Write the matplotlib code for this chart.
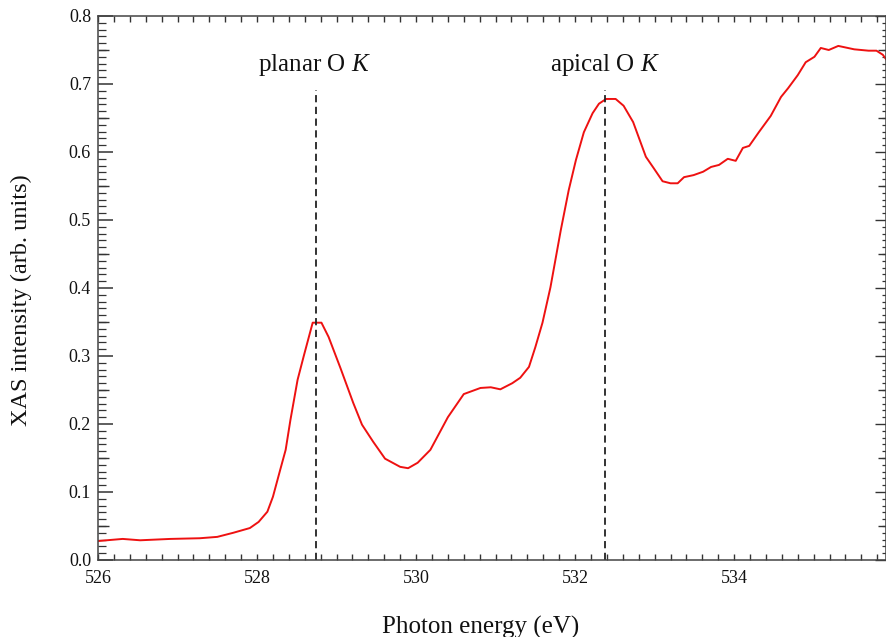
import matplotlib
matplotlib.use("Agg")
import matplotlib.pyplot as plt
from matplotlib.ticker import MultipleLocator, FormatStrFormatter, FixedLocator, NullFormatter

energy = [526.01, 526.31, 526.53, 526.91, 527.28, 527.50, 527.70, 527.91, 528.02, 528.13,
          528.20, 528.29, 528.36, 528.42, 528.51, 528.59, 528.70, 528.81, 528.90, 529.05,
          529.21, 529.32, 529.46, 529.61, 529.80, 529.90, 530.02, 530.18, 530.40, 530.60,
          530.81, 530.94, 531.06, 531.21, 531.31, 531.42, 531.50, 531.59, 531.69, 531.82,
          531.92, 532.01, 532.11, 532.22, 532.30, 532.39, 532.51, 532.61, 532.73, 532.89,
          532.99, 533.10, 533.20, 533.29, 533.37, 533.49, 533.61, 533.71, 533.81, 533.92,
          534.02, 534.11, 534.19, 534.31, 534.46, 534.59, 534.68, 534.80, 534.90, 535.01,
          535.09, 535.19, 535.31, 535.51, 535.69, 535.79, 535.87, 535.92]
intensity = [0.028, 0.031, 0.029, 0.031, 0.032, 0.034, 0.040, 0.047, 0.056, 0.071,
             0.093, 0.132, 0.162, 0.206, 0.265, 0.301, 0.349, 0.349, 0.328, 0.282,
             0.231, 0.199, 0.174, 0.149, 0.137, 0.135, 0.143, 0.162, 0.210, 0.244,
             0.253, 0.254, 0.251, 0.260, 0.268, 0.284, 0.313, 0.349, 0.401, 0.485,
             0.544, 0.588, 0.629, 0.657, 0.671, 0.678, 0.678, 0.668, 0.644, 0.593,
             0.576, 0.557, 0.554, 0.554, 0.563, 0.566, 0.571, 0.578, 0.581, 0.590,
             0.587, 0.606, 0.609, 0.629, 0.653, 0.681, 0.694, 0.713, 0.732, 0.740,
             0.753, 0.750, 0.756, 0.751, 0.749, 0.749, 0.743, 0.735]

peak_positions = [528.745, 532.37]
peak_labels = ["planar O $\\mathit{K}$", "apical O $\\mathit{K}$"]
label_x = [528.72, 532.37]
dash_top = 0.691
label_y = 0.728
mid_ticks = [0.05, 0.15, 0.25, 0.35, 0.45, 0.55, 0.65, 0.75]

plt.rcParams['font.family'] = ['Liberation Serif', 'DejaVu Serif']
plt.rcParams['mathtext.fontset'] = 'custom'
plt.rcParams['mathtext.it'] = 'Liberation Serif:italic'
plt.rcParams['mathtext.rm'] = 'Liberation Serif'

fig = plt.figure(figsize=(8.86, 6.37), dpi=100)
ax = fig.add_axes([98/886, 77/637, 788/886, 544/637])

ax.plot(energy, intensity, color='#ee1111', lw=1.4)
for xp, lx, lab in zip(peak_positions, label_x, peak_labels):
    ax.plot([xp, xp], [0, dash_top], color='#222222', lw=1.3, ls=(0, (4, 2.5)))
    ax.text(lx, label_y, lab, ha='center', va='center', fontsize=18, color='#111111')

ax.set_xlim(526, 535.91)
ax.set_ylim(0, 0.8)
ax.xaxis.set_major_locator(MultipleLocator(2))
ax.xaxis.set_minor_locator(MultipleLocator(0.2))
ax.yaxis.set_major_locator(MultipleLocator(0.1))
ax.yaxis.set_minor_locator(MultipleLocator(0.01))
ax.yaxis.set_major_formatter(FormatStrFormatter('%.1f'))
ax.tick_params(which='both', direction='in', top=True, right=False, colors='#333333',
               labelcolor='#111111', labelsize=13)
ax.tick_params(axis='y', which='major', length=11, width=1.1, pad=5)
ax.tick_params(axis='y', which='minor', length=5.5, width=0.9)
ax.tick_params(axis='x', which='both', length=4.5, width=1.0, pad=7)
for s in ax.spines.values():
    s.set_color('#444444')
    s.set_linewidth(1.1)

# medium ticks at the half-tenths on the left
sec_left = ax.secondary_yaxis('left')
sec_left.yaxis.set_major_locator(FixedLocator(mid_ticks))
sec_left.yaxis.set_major_formatter(NullFormatter())
sec_left.tick_params(direction='in', length=8, width=1.0, colors='#333333')
sec_left.spines['left'].set_visible(False)

# right-side ticks (shorter)
sec_right = ax.secondary_yaxis('right')
sec_right.yaxis.set_major_locator(MultipleLocator(0.1))
sec_right.yaxis.set_minor_locator(MultipleLocator(0.01))
sec_right.yaxis.set_major_formatter(NullFormatter())
sec_right.tick_params(which='major', direction='in', length=8, width=1.0, colors='#333333')
sec_right.tick_params(which='minor', direction='in', length=3, width=0.9, colors='#333333')
sec_right.spines['right'].set_visible(False)
sec_right2 = ax.secondary_yaxis('right')
sec_right2.yaxis.set_major_locator(FixedLocator(mid_ticks))
sec_right2.yaxis.set_major_formatter(NullFormatter())
sec_right2.tick_params(direction='in', length=5.5, width=1.0, colors='#333333')
sec_right2.spines['right'].set_visible(False)

ax.set_xlabel('Photon energy (eV)', fontsize=18, color='#111111')
ax.xaxis.set_label_coords(0.485, -0.102)
ax.set_ylabel('XAS intensity (arb. units)', fontsize=17.5, color='#111111')
ax.yaxis.set_label_coords(-0.084, 0.478)

fig.savefig('out.png', dpi=100)
